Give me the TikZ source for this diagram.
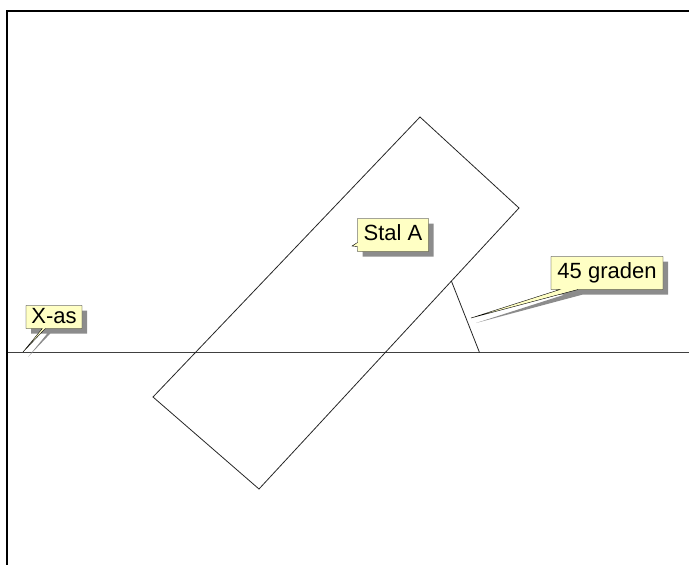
\documentclass[tikz,border=0pt]{standalone}
\usepackage{fontspec}
\setmainfont{Liberation Sans}
\usepackage{xcolor}
\usetikzlibrary{calc}
\usetikzlibrary{shapes.callouts}
\usetikzlibrary{shadows}
\definecolor{notefill}{RGB}{255,255,196}
\definecolor{axisgray}{RGB}{64,64,64}

\begin{document}
\begin{tikzpicture}[x=1pt, y=-1pt,
  note/.style={rectangle callout, draw=black, fill=notefill,
    font=\fontsize{22}{24}\selectfont, inner xsep=1pt, inner ysep=0pt,
    text height=16pt, text depth=5pt,
    drop shadow={shadow xshift=5pt, shadow yshift=-5pt, fill=black!45, opacity=1}},
  edgeline/.style={draw=black!85, line width=0.8pt}]
  \useasboundingbox (0,0) rectangle (689,565);
  \draw[line width=2pt] (7,565) -- (7,11) -- (689,11);

  \coordinate (top) at (420,117);
  \coordinate (right) at (519,208);
  \coordinate (bottom) at (259,489);
  \coordinate (left) at (153,397);
  \coordinate (axisL) at (8,352.5);
  \coordinate (axisR) at (689,352.5);
  \coordinate (angA) at ($(right)!0.26!(bottom)$);
  \coordinate (angB) at (479.5,352.5);
  \coordinate (tipStal) at (352,246);
  \coordinate (tipAs) at (23,352);
  \coordinate (tipAngle) at (471,318);

  \draw[axisgray, line width=1.3pt] (axisL) -- (axisR);
  \draw[edgeline] (top) -- (right) -- (bottom) -- (left) -- cycle;
  \draw[edgeline] (angA) -- (angB);

  \node[note, minimum width=71pt, minimum height=33pt, callout pointer width=4pt,
    callout absolute pointer={(tipStal)}] (stal) at (393,235) {Stal A};
  \node[note, minimum width=112pt, minimum height=33pt, callout pointer width=18pt,
    callout absolute pointer={(tipAngle)}] (angle) at (607,273) {45 graden};
  \node[note, minimum width=56pt, minimum height=23pt, text height=15pt, text depth=2pt,
    callout pointer width=3pt,
    callout absolute pointer={(tipAs)}] (xas) at (54,317) {X-as};
\end{tikzpicture}
\end{document}
